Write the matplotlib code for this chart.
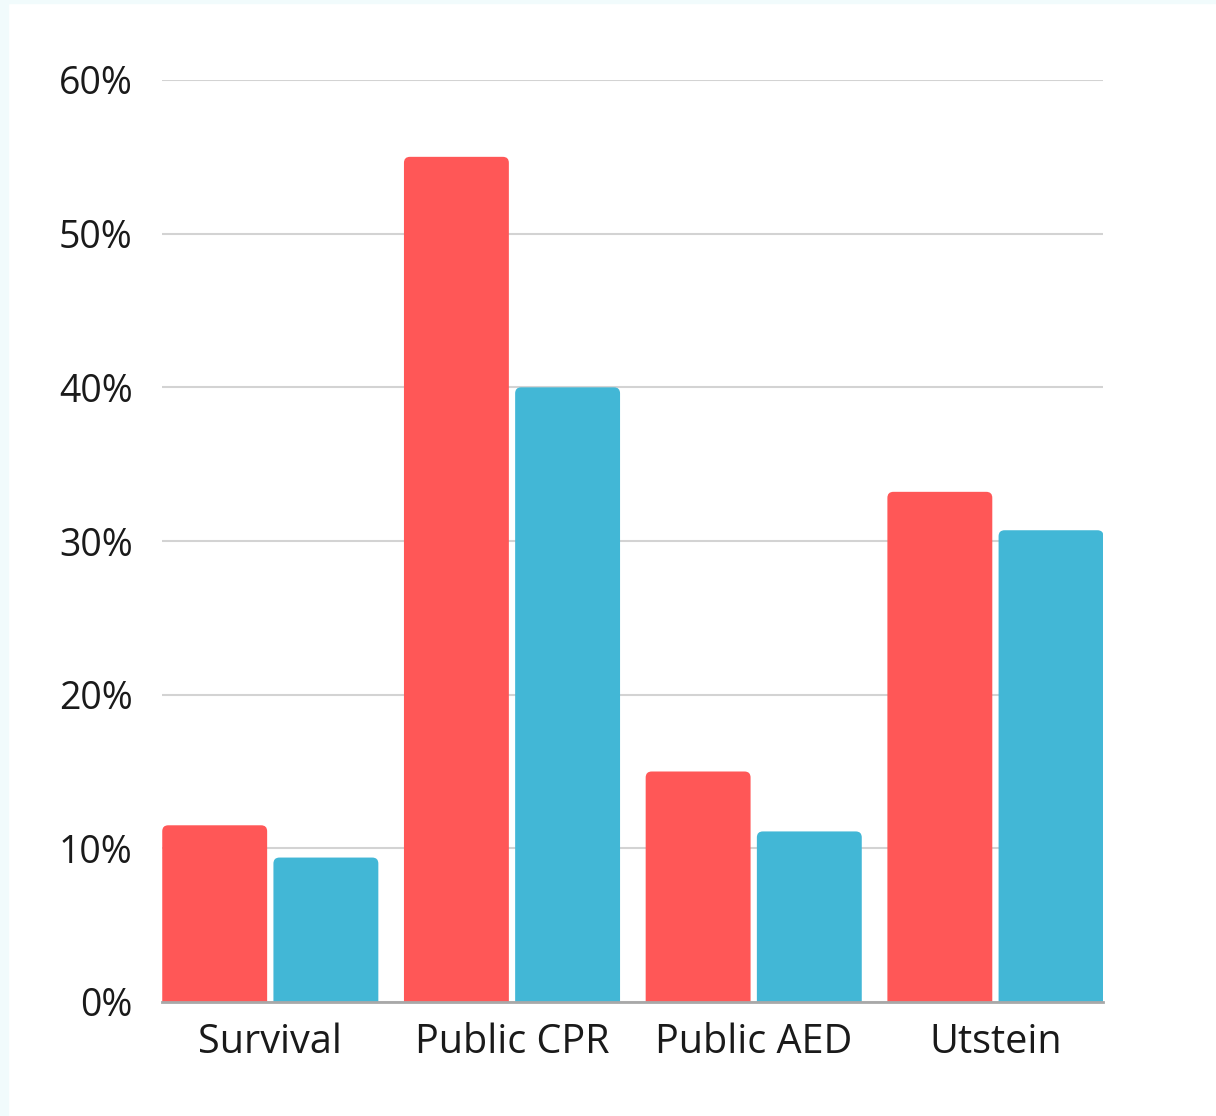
import matplotlib
matplotlib.use("Agg")
import matplotlib.pyplot as plt
from matplotlib.patches import FancyBboxPatch, Rectangle
from matplotlib.ticker import FuncFormatter

# data
categories = ["Survival", "Public CPR", "Public AED", "Utstein"]
series_red = [11.5, 55.0, 15.0, 33.2]
series_blue = [9.4, 40.0, 11.1, 30.7]

RED = "#FF5757"
BLUE = "#42B7D6"

plt.rcParams["font.family"] = ["Open Sans", "DejaVu Sans"]

fig = plt.figure(figsize=(12.16, 11.16), dpi=100)
ax = fig.add_axes([162 / 1216, 114 / 1116, 941 / 1216, 922 / 1116])

# faint frame like the screenshot edge
fig.patches.append(Rectangle((0, 0), 8 / 1216, 1, transform=fig.transFigure,
                             color="#F1FBFC", zorder=-5))
fig.patches.append(Rectangle((0, 1 - 3 / 1116), 1, 3 / 1116, transform=fig.transFigure,
                             color="#F1FBFC", zorder=-5))

x = list(range(len(categories)))
width = 0.434
offset = 0.23

ax.set_xlim(-0.448, 3.445)
ax.set_ylim(0, 60)

# px -> data scale for the rounded tops
px_x = (3.445 + 0.448) / 941
px_y = 60 / 922
rad = 6

for vals, sign, color in [(series_red, -1, RED), (series_blue, 1, BLUE)]:
    bars = ax.bar([i + sign * offset for i in x], vals, width=width, color=color)
    for b in bars:
        b.set_visible(False)
        bx, bw, bh = b.get_x(), b.get_width(), b.get_height()
        p = FancyBboxPatch((bx + rad * px_x, -5),
                           bw - 2 * rad * px_x, bh + 5 - rad * px_y,
                           boxstyle=f"round,pad={rad * px_x},rounding_size={rad * px_x}",
                           mutation_aspect=px_y / px_x,
                           facecolor=color, edgecolor="none", zorder=3, clip_on=True)
        ax.add_patch(p)

ax.set_yticks([0, 10, 20, 30, 40, 50, 60])
ax.yaxis.set_major_formatter(FuncFormatter(lambda v, _: f"{int(v)}%"))
ax.grid(axis="y", color="#D3D3D3", linewidth=1.5, zorder=0)
ax.set_axisbelow(True)

ax.set_xticks(x)
ax.set_xticklabels(categories)

for s in ["top", "right", "left"]:
    ax.spines[s].set_visible(False)
ax.spines["bottom"].set_color("#A8A8A8")
ax.spines["bottom"].set_linewidth(2)
ax.spines["bottom"].set_zorder(4)

ax.tick_params(axis="y", length=0, pad=21, labelsize=27, labelcolor="#1A1A1A")
ax.tick_params(axis="x", length=0, pad=15, labelsize=28.5, labelcolor="#1A1A1A")

fig.savefig("out.png", dpi=100, facecolor="white")
